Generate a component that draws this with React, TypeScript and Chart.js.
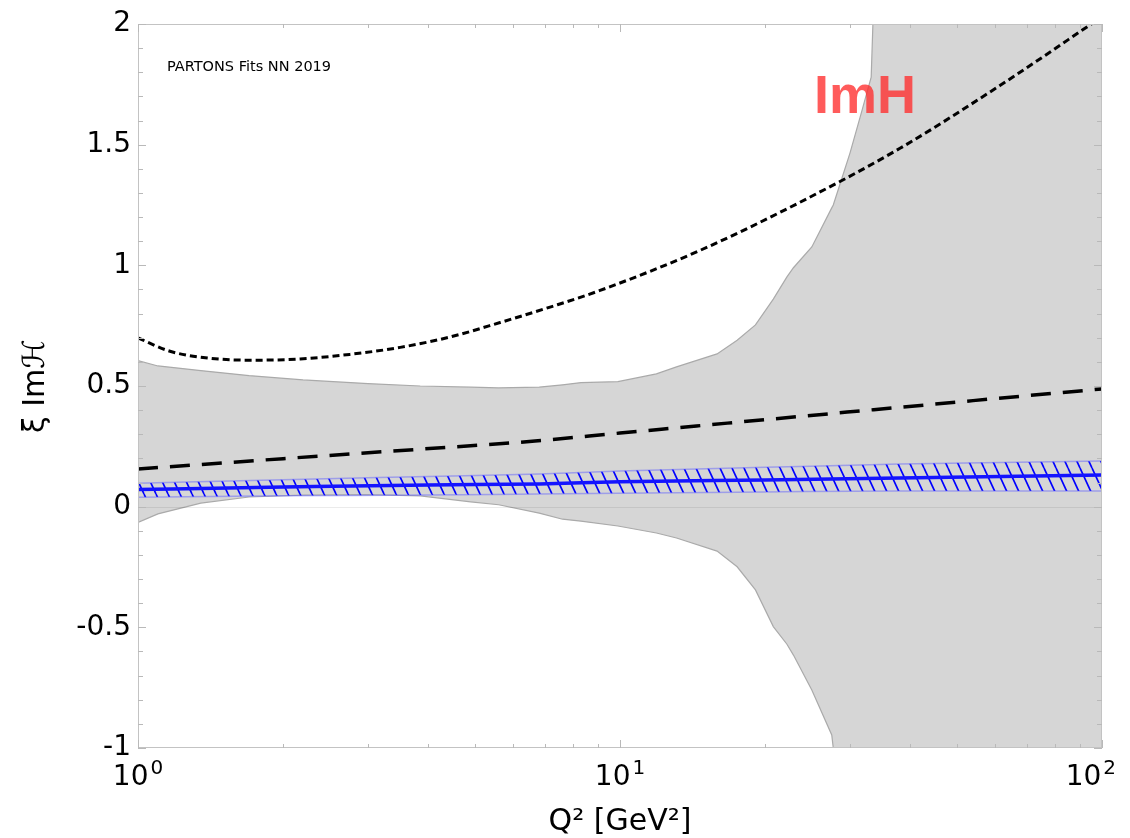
import React, { useEffect, useRef } from 'react';
import { Chart, registerables } from 'chart.js';

Chart.register(...registerables);

// ---------- data ----------
const qGray = [1, 1.1, 1.35, 1.7, 2.2, 3, 3.85, 4.9, 5.6, 6.8, 7.6, 8.3, 9.9, 11.9, 13.1, 15.9, 17.5, 19.1, 20.8, 22.2, 22.9, 25, 27.5, 27.7, 30, 31.8, 33.2, 33.6, 35, 40, 60, 100];
const grayUpper = [0.605, 0.583, 0.564, 0.543, 0.525, 0.51, 0.5, 0.495, 0.492, 0.495, 0.505, 0.514, 0.518, 0.55, 0.579, 0.633, 0.69, 0.753, 0.86, 0.952, 0.99, 1.076, 1.238, 1.25, 1.465, 1.644, 1.78, 2.1, 3, 4, 6, 8];
const grayLower = [-0.065, -0.03, 0.015, 0.04, 0.048, 0.05, 0.045, 0.02, 0.008, -0.027, -0.052, -0.06, -0.08, -0.109, -0.13, -0.184, -0.249, -0.345, -0.497, -0.57, -0.615, -0.76, -0.946, -1.0, -2, -2.5, -3, -3, -3, -3, -3, -3];

const qDotted = [1, 1.165, 1.41, 1.71, 2.17, 2.75, 3.5, 4.44, 5.64, 7.16, 9.09, 14.66, 23.6, 38.1, 61.4, 100];
const dotted = [0.699, 0.644, 0.615, 0.607, 0.612, 0.631, 0.66, 0.703, 0.763, 0.827, 0.896, 1.062, 1.261, 1.485, 1.745, 2.03];

const qDashed = [1, 2, 3.9, 6.66, 10, 31.6, 100];
const dashed = [0.156, 0.199, 0.239, 0.272, 0.305, 0.397, 0.488];

const qBlue = [1, 2, 4, 6.8, 10, 20, 38, 100];
const blueCentral = [0.071, 0.081, 0.09, 0.094, 0.103, 0.111, 0.119, 0.131];
const blueUpper = [0.097, 0.112, 0.125, 0.135, 0.148, 0.163, 0.177, 0.189];
const blueLower = [0.039, 0.045, 0.048, 0.053, 0.056, 0.061, 0.065, 0.065];

const yTickValues = [2, 1.5, 1, 0.5, 0, -0.5, -1];
const yTickLabels = ['2', '1.5', '1', '0.5', '0', '-0.5', '-1'];
const xTickValues = [1, 10, 100];
const xTickBase = ['10', '10', '10'];
const xTickExp = ['0', '1', '2'];

const xTitle = 'Q² [GeV²]';
const yTitle = 'ξ Imℋ';
const noteText = 'PARTONS Fits NN 2019';
const tagText = 'ImH';

const pts = (xs: number[], ys: number[]) => xs.map((x, i) => ({ x, y: ys[i] }));

function makeHatch(): CanvasPattern | string {
  const c = document.createElement('canvas');
  c.width = 12;
  c.height = 26;
  const g = c.getContext('2d');
  if (!g) return 'rgba(0,0,255,0.2)';
  g.strokeStyle = 'rgb(0,0,255)';
  g.lineWidth = 1.7;
  for (const off of [-12, 0, 12]) {
    g.beginPath();
    g.moveTo(off, 0);
    g.lineTo(off + 12, 26);
    g.stroke();
  }
  const p = g.createPattern(c, 'repeat');
  return p || 'rgba(0,0,255,0.2)';
}

const FONT = '"DejaVu Sans", "Liberation Sans", sans-serif';

const decorPlugin = {
  id: 'decor',
  afterDatasetsDraw(chart: any) {
    const { ctx, chartArea: a, scales } = chart;
    const xs = scales.x;
    const ys = scales.y;
    ctx.save();

    // zero line
    const y0 = Math.round(ys.getPixelForValue(0)) + 0.5;
    ctx.strokeStyle = 'rgba(0,0,0,0.08)';
    ctx.lineWidth = 1;
    ctx.beginPath();
    ctx.moveTo(a.left, y0);
    ctx.lineTo(a.right, y0);
    ctx.stroke();

    // frame
    ctx.strokeStyle = 'rgb(195,195,195)';
    ctx.lineWidth = 1;
    ctx.strokeRect(a.left + 0.5, a.top + 0.5, a.right - a.left - 1, a.bottom - a.top - 1);

    // y ticks
    ctx.strokeStyle = 'rgb(185,185,185)';
    ctx.beginPath();
    for (let i = -10; i <= 20; i++) {
      const v = i / 10;
      const py = Math.round(ys.getPixelForValue(v)) + 0.5;
      const len = i % 5 === 0 ? 8 : 5;
      ctx.moveTo(a.left, py);
      ctx.lineTo(a.left + len, py);
      ctx.moveTo(a.right, py);
      ctx.lineTo(a.right - len, py);
    }
    // x ticks (log)
    for (let d = 0; d < 2; d++) {
      for (let k = 1; k <= 10; k++) {
        const q = k * Math.pow(10, d);
        const px = Math.round(xs.getPixelForValue(q)) + 0.5;
        const len = k === 1 || k === 10 ? 8 : 4;
        ctx.moveTo(px, a.bottom);
        ctx.lineTo(px, a.bottom - len);
        ctx.moveTo(px, a.top);
        ctx.lineTo(px, a.top + len);
      }
    }
    ctx.stroke();

    // y tick labels
    ctx.fillStyle = '#000';
    ctx.font = `28px ${FONT}`;
    ctx.textAlign = 'right';
    ctx.textBaseline = 'middle';
    yTickValues.forEach((v, i) => {
      ctx.fillText(yTickLabels[i], 131, ys.getPixelForValue(v));
    });

    // x tick labels with exponents
    ctx.textAlign = 'left';
    ctx.textBaseline = 'alphabetic';
    xTickValues.forEach((q, i) => {
      const px = xs.getPixelForValue(q);
      ctx.font = `28px ${FONT}`;
      const w1 = ctx.measureText(xTickBase[i]).width;
      ctx.font = `20px ${FONT}`;
      const w2 = ctx.measureText(xTickExp[i]).width;
      const gap = 2;
      const total = w1 + gap + w2;
      let start = px - total / 2;
      if (start + total > chart.width - 14) start = chart.width - 14 - total;
      ctx.font = `28px ${FONT}`;
      ctx.fillText(xTickBase[i], start, 785);
      ctx.font = `20px ${FONT}`;
      ctx.fillText(xTickExp[i], start + w1 + gap, 774);
    });

    // axis titles
    ctx.font = `30px ${FONT}`;
    ctx.textAlign = 'center';
    ctx.textBaseline = 'alphabetic';
    ctx.fillText(xTitle, (a.left + a.right) / 2, 830);

    ctx.save();
    ctx.translate(44, (a.top + a.bottom) / 2);
    ctx.rotate(-Math.PI / 2);
    ctx.font = `30px ${FONT}`;
    ctx.fillText(yTitle, 0, 0);
    ctx.restore();

    // annotation texts
    ctx.textAlign = 'left';
    ctx.font = `14.5px ${FONT}`;
    ctx.fillStyle = '#000';
    ctx.fillText(noteText, 167, 71);

    ctx.font = `bold 54px "Liberation Sans", Arial, sans-serif`;
    ctx.fillStyle = 'rgba(255,45,45,0.78)';
    ctx.fillText(tagText, 814, 113);

    ctx.restore();
  },
};

export default function App() {
  const ref = useRef<HTMLCanvasElement | null>(null);

  useEffect(() => {
    if (!ref.current) return;
    const hatch = makeHatch();
    const chart = new Chart(ref.current, {
      type: 'line',
      data: {
        datasets: [
          {
            label: 'gray upper',
            data: pts(qGray, grayUpper),
            borderColor: 'rgb(170,170,170)',
            borderWidth: 1.2,
            backgroundColor: 'rgb(214,214,214)',
            fill: '+1',
            tension: 0,
            order: 6,
          },
          {
            label: 'gray lower',
            data: pts(qGray, grayLower),
            borderColor: 'rgb(170,170,170)',
            borderWidth: 1.2,
            fill: false,
            tension: 0,
            order: 5,
          },
          {
            label: 'dotted',
            data: pts(qDotted, dotted),
            borderColor: '#000',
            borderWidth: 3,
            borderDash: [7, 4],
            fill: false,
            cubicInterpolationMode: 'monotone',
            order: 4,
          },
          {
            label: 'dashed',
            data: pts(qDashed, dashed),
            borderColor: '#000',
            borderWidth: 3.5,
            borderDash: [20, 12],
            fill: false,
            cubicInterpolationMode: 'monotone',
            order: 3,
          },
          {
            label: 'band upper',
            data: pts(qBlue, blueUpper),
            borderColor: 'rgba(90,90,255,0.45)',
            borderWidth: 1.5,
            backgroundColor: hatch as any,
            fill: '+1',
            cubicInterpolationMode: 'monotone',
            order: 2,
          },
          {
            label: 'band lower',
            data: pts(qBlue, blueLower),
            borderColor: 'rgba(90,90,255,0.45)',
            borderWidth: 1.5,
            fill: false,
            cubicInterpolationMode: 'monotone',
            order: 1,
          },
          {
            label: 'central',
            data: pts(qBlue, blueCentral),
            borderColor: 'rgb(20,20,255)',
            borderWidth: 3.5,
            fill: false,
            cubicInterpolationMode: 'monotone',
            order: 0,
          },
        ],
      },
      options: {
        animation: false,
        responsive: false,
        maintainAspectRatio: false,
        layout: { padding: { left: 138, top: 24, right: 28, bottom: 90 } },
        elements: { point: { radius: 0, hoverRadius: 0 } },
        plugins: {
          legend: { display: false },
          tooltip: { enabled: false },
        },
        scales: {
          x: { type: 'logarithmic', min: 1, max: 100, display: false },
          y: { type: 'linear', min: -1, max: 2, display: false },
        },
      },
      plugins: [decorPlugin],
    } as any);
    return () => chart.destroy();
  }, []);

  return (
    <div style={{ position: 'fixed', left: 0, top: 0, width: 1130, height: 838, background: '#fff' }}>
      <canvas ref={ref} width={1130} height={838} style={{ display: 'block', width: 1130, height: 838 }} />
    </div>
  );
}
